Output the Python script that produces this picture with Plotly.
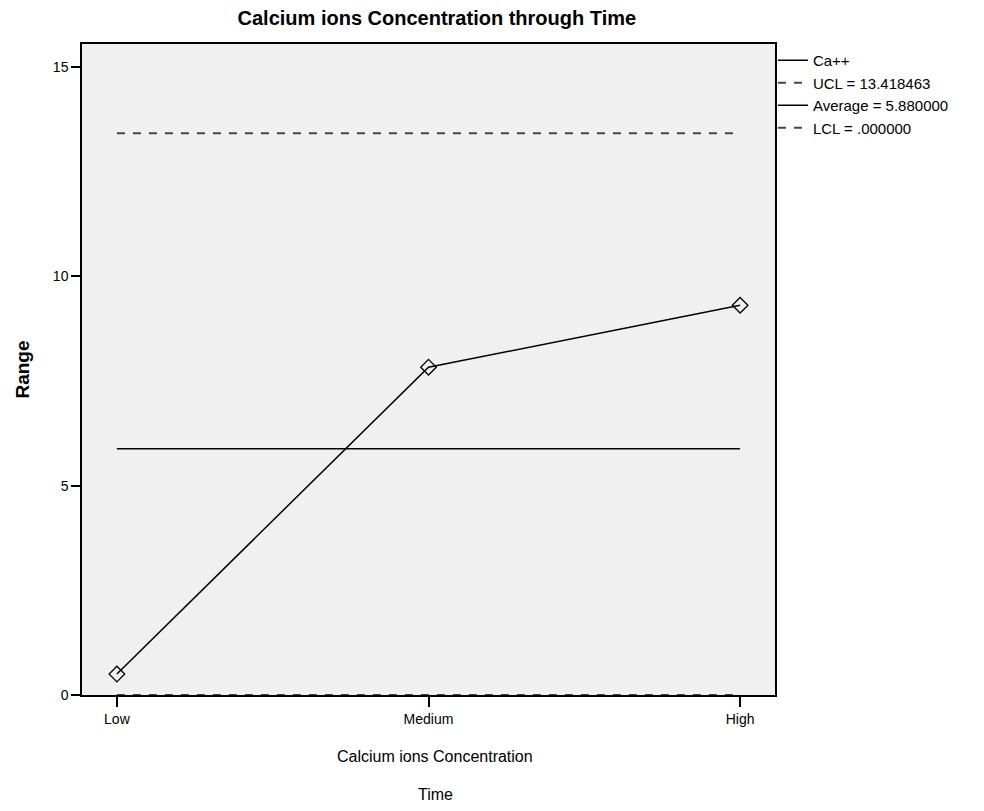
import plotly.graph_objects as go

categories = ["Low", "Medium", "High"]
ranges = [0.50, 7.83, 9.31]
ucl = 13.418463
average = 5.880000
lcl = 0.000000
ytick_vals = [0, 5, 10, 15]

FONT = "Liberation Sans, Arial, sans-serif"

fig = go.Figure()
xi = list(range(len(categories)))

fig.add_trace(go.Scatter(
    x=xi, y=ranges, mode="lines+markers", name="Ca++", showlegend=False,
    line=dict(color="black", width=1.5),
    marker=dict(symbol="diamond-open", size=12, color="black", line=dict(width=1.3)),
))
fig.add_trace(go.Scatter(
    x=[None], y=[None], mode="lines", name="Ca++",
    line=dict(color="black", width=1.5),
))
fig.add_trace(go.Scatter(
    x=[xi[0], xi[-1]], y=[ucl, ucl], mode="lines", name="UCL = 13.418463",
    line=dict(color="#444444", width=2, dash="8px,8px"),
))
fig.add_trace(go.Scatter(
    x=[xi[0], xi[-1]], y=[average, average], mode="lines", name="Average = 5.880000",
    line=dict(color="black", width=1.5),
))
fig.add_trace(go.Scatter(
    x=[xi[0], xi[-1]], y=[lcl, lcl], mode="lines", name="LCL = .000000",
    line=dict(color="#444444", width=2, dash="8px,8px"),
    cliponaxis=False,
))

fig.update_layout(
    width=968, height=795,
    paper_bgcolor="white", plot_bgcolor="#F0F0F0",
    margin=dict(l=74, r=201, t=36, b=108, autoexpand=False),
    font=dict(family=FONT, color="black", size=14),
    title=dict(text="<b>Calcium ions Concentration through Time</b>",
               x=0.443, xanchor="center", y=0.987, yanchor="middle",
               font=dict(size=20, family=FONT)),
    showlegend=True,
    legend=dict(x=0.997, xanchor="left", y=1.0, yanchor="top",
                bgcolor="rgba(0,0,0,0)", font=dict(size=15, family=FONT),
                itemwidth=30, tracegroupgap=0),
    xaxis=dict(
        tickmode="array", tickvals=xi, ticktext=categories,
        range=[-0.112, 2.112], showgrid=False, zeroline=False,
        ticks="outside", ticklen=10, tickcolor="black", tickwidth=1.5,
        showline=True, linecolor="black", linewidth=1.5, mirror=True,
        tickfont=dict(size=14),
    ),
    yaxis=dict(
        tickmode="array", tickvals=ytick_vals,
        range=[0, 15.55], showgrid=False, zeroline=False,
        ticks="outside", ticklen=9, tickcolor="black", tickwidth=1.5,
        showline=True, linecolor="black", linewidth=1.5, mirror=True,
        tickfont=dict(size=14),
        title=dict(text="<b>Range</b>", font=dict(size=19), standoff=18),
    ),
    annotations=[
        dict(text="Calcium ions Concentration", xref="paper", yref="paper",
             x=0.51, y=-0.095, xanchor="center", yanchor="middle",
             showarrow=False, font=dict(size=16)),
        dict(text="Time", xref="paper", yref="paper",
             x=0.51, y=-0.153, xanchor="center", yanchor="middle",
             showarrow=False, font=dict(size=16)),
    ],
)

fig.write_html("out.html")
